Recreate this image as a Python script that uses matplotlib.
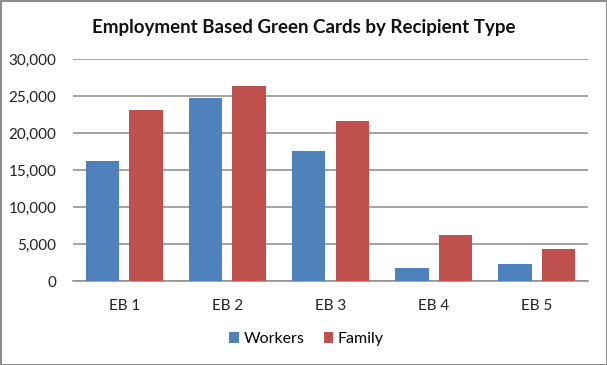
import numpy as np
import matplotlib.pyplot as plt

categories = ['EB 1', 'EB 2', 'EB 3', 'EB 4', 'EB 5']
workers = [16250, 24800, 17600, 1800, 2300]
family = [23100, 26400, 21600, 6200, 4350]

plt.rcParams['font.family'] = ['Lato', 'DejaVu Sans']

fig = plt.figure(figsize=(6.07, 3.65), dpi=100)
fig.patch.set_edgecolor('#8c8c8c')
fig.patch.set_linewidth(2)
ax = fig.add_axes([0.120, 0.230, 0.849, 0.608])

x = np.arange(len(categories))
w = 0.324
ax.bar(x - 0.211, workers, w, color='#4F81BD', label='Workers', zorder=3)
ax.bar(x + 0.211, family, w, color='#C0504D', label='Family', zorder=3)

ax.set_xlim(-0.5, len(categories) - 0.5)
ax.set_ylim(0, 30000)
ax.set_yticks(np.arange(0, 30001, 5000))
ax.yaxis.set_major_formatter(plt.FuncFormatter(lambda v, p: f'{int(v):,}'))
ax.set_xticks(x)
ax.set_xticklabels(categories)
ax.tick_params(length=0, labelsize=11, colors='#222222')
ax.tick_params(axis='x', pad=13)
ax.tick_params(axis='y', pad=12)
ax.grid(axis='y', color='#939393', linewidth=1.2, zorder=0)
for s in ['top', 'right', 'left']:
    ax.spines[s].set_visible(False)
ax.spines['bottom'].set_color('#939393')
ax.spines['bottom'].set_linewidth(1.2)

fig.text(0.5, 0.926, 'Employment Based Green Cards by Recipient Type',
         ha='center', va='center', fontsize=13.5, fontweight='bold', color='#111111')

fig.legend(loc='center', bbox_to_anchor=(0.505, 0.071), ncol=2, frameon=False,
           fontsize=11.5, handlelength=0.6, handleheight=0.6, handletextpad=0.3,
           columnspacing=1.2)

fig.savefig('out.png', dpi=100)
